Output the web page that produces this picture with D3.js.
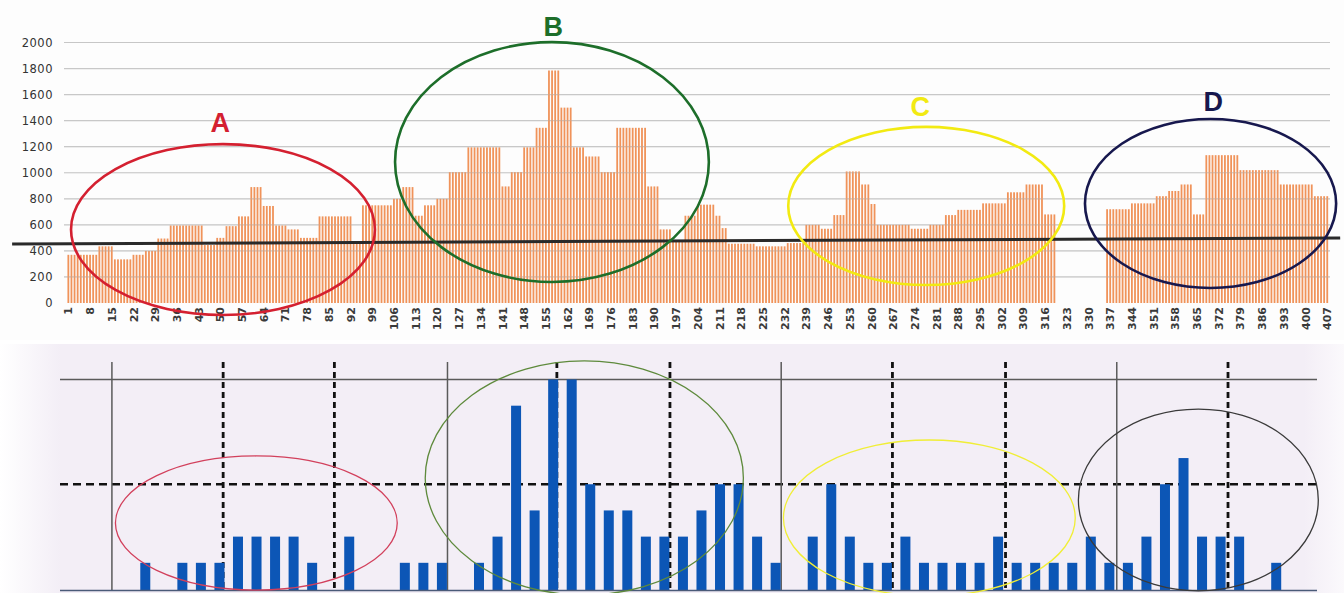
<!DOCTYPE html>
<html>
<head>
<meta charset="utf-8">
<script src="https://cdn.jsdelivr.net/npm/d3@7"></script>
<style>
  body { margin: 0; background: #ffffff; }
  svg { display: block; }
</style>
</head>
<body>
<svg id="chart" width="1344" height="593"></svg>
<script>
// Daily series (days 1..407), stored as runs of equal daily values
const runValues  = [370, 435, 335, 370, 400, 495, 595, 445, 500, 590, 665, 890, 745, 595, 565, 500, 665, 455,
                    750, 800, 890, 670, 750, 800, 1005, 1195, 895, 1005, 1195, 1345, 1785, 1500, 1195, 1125, 1005, 1345, 895, 565, 470,
                    670, 755, 670, 575, 455, 435, 460, 600, 570, 675, 1010, 910, 760, 600, 570, 600, 675, 715, 765, 850, 910, 680,
                    0, 720, 765, 820, 860, 910, 680, 1135, 1020, 910, 820];
const runLengths = [10, 5, 6, 4, 4, 4, 11, 4, 3, 4, 4, 4, 4, 4, 4, 6, 11, 3,
                    10, 3, 4, 3, 4, 4, 6, 11, 3, 4, 4, 4, 4, 4, 4, 5, 5, 10, 4, 4, 4,
                    4, 6, 2, 2, 9, 10, 6, 5, 4, 4, 5, 3, 2, 11, 6, 5, 4, 8, 8, 6, 6, 4,
                    16, 8, 8, 4, 4, 4, 4, 11, 13, 11, 5];
const yTicks = [0, 200, 400, 600, 800, 1000, 1200, 1400, 1600, 1800, 2000];
// hand-drawn level line: value at its left end and at its right end
const levelLine = [453, 499];

// Weekly counts (lower panel), one per slot
const weeklyCounts = [1, 0, 1, 1, 1, 2, 2, 2, 2, 1, 0, 2, 0, 0, 1, 1, 1, 0, 1, 2,
                      7, 3, 8, 8, 4, 3, 3, 2, 2, 2, 3, 4, 4, 2, 1, 0, 2, 4, 2, 1,
                      1, 2, 1, 1, 1, 1, 2, 1, 1, 1, 1, 2, 1, 1, 2, 4, 5, 2, 2, 2, 0, 1];
const dividerSlots = [-1.8, 4.2, 10.2, 16.3, 22.2, 28.3, 34.3, 40.3, 46.4, 52.4, 58.4];
const dividerSolid = [true, false, false, true, false, false, true, false, false, true, false];

// Expand runs into the daily list
const daily = [];
runValues.forEach((v, i) => { for (let k = 0; k < runLengths[i]; k++) daily.push(v); });
const days = daily.map((v, i) => ({ day: i + 1, value: v }));
const dayTicks = days.filter(d => (d.day - 1) % 7 === 0).map(d => d.day);

const svg = d3.select("#chart");

// ---------- upper panel ----------
const xDay = d3.scaleLinear().domain([0.5, 407.5]).range([67, 1329]);
const xBand = d3.scaleBand().domain(days.map(d => d.day)).range([67, 1329]).padding(0);
const y = d3.scaleLinear().domain([0, 2000]).range([303, 42.5]);
const pxPerDay = xDay(1) - xDay(0);
const pxPerUnit = y(0) - y(1);

svg.append("rect").attr("x", 0).attr("y", 0).attr("width", 1344).attr("height", 340).attr("fill", "#fdfdfd");

svg.append("g").selectAll("line").data(yTicks.filter(t => t > 0)).join("line")
  .attr("x1", 64).attr("x2", 1330)
  .attr("y1", d => y(d)).attr("y2", d => y(d))
  .attr("stroke", "#cfcfcf").attr("stroke-width", 1.2);

svg.append("g").selectAll("rect").data(days.filter(d => d.value > 0)).join("rect")
  .attr("x", d => xBand(d.day) + 0.45)
  .attr("width", xBand.bandwidth() * 0.58)
  .attr("y", d => y(d.value))
  .attr("height", d => y(0) - y(d.value))
  .attr("fill", "#f0935a");

// faint gridlines show through the columns
svg.append("g").selectAll("line").data(yTicks.filter(t => t > 0)).join("line")
  .attr("x1", 64).attr("x2", 1330)
  .attr("y1", d => y(d)).attr("y2", d => y(d))
  .attr("stroke", "#b8b8b8").attr("stroke-opacity", 0.35).attr("stroke-width", 1);

const yAxis = d3.axisLeft(y).tickValues(yTicks).tickFormat(d3.format("d")).tickSize(0).tickPadding(0);
const gy = svg.append("g").attr("transform", "translate(53,0)").call(yAxis);
gy.select(".domain").remove();
gy.selectAll("text")
  .attr("font-family", "DejaVu Sans").attr("font-size", 11.5).attr("letter-spacing", 0.5)
  .attr("fill", "#333");

const gx = svg.append("g").attr("transform", "translate(0,304)")
  .call(d3.axisBottom(xBand).tickValues(dayTicks).tickSize(0).tickPadding(0));
gx.select(".domain").remove();
gx.selectAll("text")
  .attr("font-family", "DejaVu Sans").attr("font-size", 11).attr("font-weight", "bold")
  .attr("fill", "#3a3a3a")
  .attr("text-anchor", "end")
  .attr("transform", "translate(0,3) rotate(-90)")
  .attr("dx", 0).attr("dy", "0.35em").attr("y", 0).attr("x", 0);

// level line
svg.append("line")
  .attr("x1", xDay(-17.2)).attr("x2", xDay(411.1))
  .attr("y1", y(levelLine[0])).attr("y2", y(levelLine[1]))
  .attr("stroke", "#2a2a2a").attr("stroke-width", 3);

// zone rings and letters (centre and radii in day / value units)
const zones = [
  { label: "A", color: "#d42030", cx: 50.8,  rx: 49,   cy: 564,  ry: 656, lx: 49.9,  ly: 1382 },
  { label: "B", color: "#1d6e2a", cx: 156.9, rx: 50.6, cy: 1082, ry: 921, lx: 157.3, ly: 2118 },
  { label: "C", color: "#f2ea12", cx: 277.6, rx: 44.5, cy: 745,  ry: 607, lx: 275.7, ly: 1505 },
  { label: "D", color: "#17184e", cx: 369.3, rx: 40.5, cy: 764,  ry: 649, lx: 370.2, ly: 1543 }
];
svg.append("g").selectAll("ellipse").data(zones).join("ellipse")
  .attr("cx", d => xDay(d.cx)).attr("cy", d => y(d.cy))
  .attr("rx", d => d.rx * pxPerDay)
  .attr("ry", d => d.ry * pxPerUnit)
  .attr("fill", "none").attr("stroke", d => d.color).attr("stroke-width", 2.6);
svg.append("g").selectAll("text").data(zones).join("text")
  .attr("x", d => xDay(d.lx)).attr("y", d => y(d.ly))
  .attr("text-anchor", "middle").attr("dominant-baseline", "central")
  .attr("font-family", "Liberation Sans").attr("font-weight", "bold").attr("font-size", 27)
  .attr("fill", d => d.color).text(d => d.label);

// ---------- lower panel ----------
const xB = d3.scaleLinear().domain([-4.6, 63.2]).range([60, 1317]);
const yB = d3.scaleLinear().domain([0, 8]).range([589, 379.5]);
const pxPerSlot = xB(1) - xB(0);
const pxPerCount = yB(0) - yB(1);

const defs = svg.append("defs");
const grad = defs.append("linearGradient").attr("id", "panelFade").attr("x1", 0).attr("x2", 1).attr("y1", 0).attr("y2", 0);
grad.append("stop").attr("offset", "0").attr("stop-color", "#ffffff");
grad.append("stop").attr("offset", "0.045").attr("stop-color", "#f3eef6");
grad.append("stop").attr("offset", "0.97").attr("stop-color", "#f3eef6");
grad.append("stop").attr("offset", "1").attr("stop-color", "#fbf9fc");
svg.append("rect").attr("x", 0).attr("y", 344).attr("width", 1344).attr("height", 249).attr("fill", "url(#panelFade)");

// horizontal reference lines
svg.append("line").attr("x1", 60).attr("x2", 1317).attr("y1", yB(8)).attr("y2", yB(8))
  .attr("stroke", "#5a5a5a").attr("stroke-width", 1.4);
svg.append("line").attr("x1", 60).attr("x2", 1317).attr("y1", yB(4)).attr("y2", yB(4))
  .attr("stroke", "#111").attr("stroke-width", 2.6).attr("stroke-dasharray", "8,5");

// vertical dividers
const divs = dividerSlots.map((s, i) => ({ s, solid: dividerSolid[i] }));
svg.append("g").selectAll("line").data(divs).join("line")
  .attr("x1", d => xB(d.s)).attr("x2", d => xB(d.s))
  .attr("y1", 362).attr("y2", 590)
  .attr("stroke", d => d.solid ? "#5a5a5a" : "#111")
  .attr("stroke-width", d => d.solid ? 1.5 : 2.8)
  .attr("stroke-dasharray", d => d.solid ? null : "6,4");

// weekly columns
const weeks = weeklyCounts.map((v, i) => ({ i, v })).filter(d => d.v > 0);
svg.append("g").selectAll("rect").data(weeks).join("rect")
  .attr("x", d => xB(d.i) - 5).attr("width", 10)
  .attr("y", d => yB(d.v)).attr("height", d => yB(0) - yB(d.v) + 1)
  .attr("fill", "#0c56b6");

svg.append("line").attr("x1", 60).attr("x2", 1317).attr("y1", 590.5).attr("y2", 590.5)
  .attr("stroke", "#4a5a78").attr("stroke-width", 1.5);

const rings = [
  { color: "#d2405c", cx: 5.99,  rx: 7.6,  cy: 2.52, ry: 2.56 },
  { color: "#5e8a3c", cx: 23.68, rx: 8.58, cy: 4.24, ry: 4.47 },
  { color: "#f0ee36", cx: 42.29, rx: 7.87, cy: 2.71, ry: 2.98 },
  { color: "#3a3a3a", cx: 56.8,  rx: 6.47, cy: 3.40, ry: 3.47 }
];
svg.append("g").selectAll("ellipse").data(rings).join("ellipse")
  .attr("cx", d => xB(d.cx)).attr("cy", d => yB(d.cy))
  .attr("rx", d => d.rx * pxPerSlot)
  .attr("ry", d => d.ry * pxPerCount)
  .attr("fill", "none").attr("stroke", d => d.color).attr("stroke-width", 1.3);
</script>
</body>
</html>
